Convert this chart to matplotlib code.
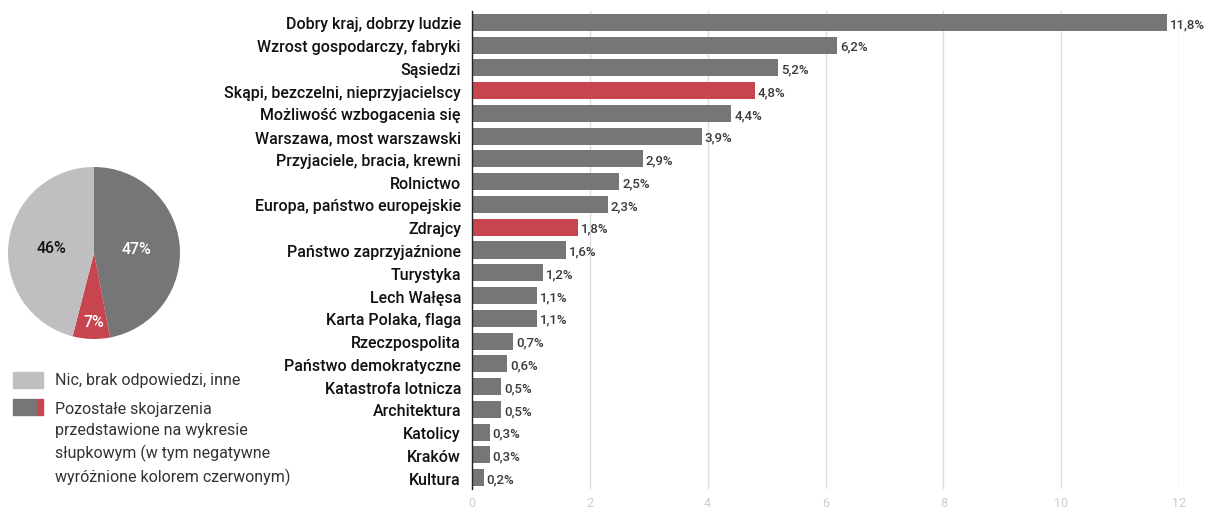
import numpy as np
import matplotlib.pyplot as plt
from matplotlib.patches import Rectangle

plt.rcParams['font.family'] = ['Roboto', 'DejaVu Sans']

# bar chart data (top to bottom)
categories = [
    'Dobry kraj, dobrzy ludzie', 'Wzrost gospodarczy, fabryki', 'Sąsiedzi',
    'Skąpi, bezczelni, nieprzyjacielscy', 'Możliwość wzbogacenia się',
    'Warszawa, most warszawski', 'Przyjaciele, bracia, krewni', 'Rolnictwo',
    'Europa, państwo europejskie', 'Zdrajcy', 'Państwo zaprzyjaźnione',
    'Turystyka', 'Lech Wałęsa', 'Karta Polaka, flaga', 'Rzeczpospolita',
    'Państwo demokratyczne', 'Katastrofa lotnicza', 'Architektura',
    'Katolicy', 'Kraków', 'Kultura',
]
values = [11.8, 6.2, 5.2, 4.8, 4.4, 3.9, 2.9, 2.5, 2.3, 1.8, 1.6,
          1.2, 1.1, 1.1, 0.7, 0.6, 0.5, 0.5, 0.3, 0.3, 0.2]
negative = ['Skąpi, bezczelni, nieprzyjacielscy', 'Zdrajcy']
xticks = [0, 2, 4, 6, 8, 10, 12]

# pie data
pie_values = [47, 7, 46]
pie_labels = ['47%', '7%', '46%']
legend_labels = ['Nic, brak odpowiedzi, inne',
                 'Pozostałe skojarzenia\nprzedstawione na wykresie\n'
                 'słupkowym (w tym negatywne\nwyróżnione kolorem czerwonym)']

GREY = '#767678'
RED = '#c8444f'
LIGHT = '#bfbfc1'

fig = plt.figure(figsize=(12.05, 5.1), dpi=100)

# ---- bar chart
ax = fig.add_axes([472 / 1205, 1 - 490 / 510, 707 / 1205, 478 / 510])
y = np.arange(len(categories))
colors = [RED if c in negative else GREY for c in categories]
ax.barh(y, values, height=0.75, color=colors, zorder=2)
for yi, v in zip(y, values):
    ax.text(v + 0.05, yi + 0.05, f'{v:.1f}%'.replace('.', ','), va='center', ha='left',
            fontsize=9.5, fontweight='medium', color='#3a3a3a', zorder=3, clip_on=False)
ax.set_ylim(len(categories) - 0.5, -0.5)
ax.set_xlim(0, 12)
ax.set_yticks(y)
ax.set_yticklabels(categories, fontsize=11.5, fontweight='medium', color='#111111')
ax.set_xticks(xticks)
ax.set_xticklabels([str(t) for t in xticks], fontsize=9, color='#cccccc')
ax.tick_params(axis='both', length=0)
ax.tick_params(axis='x', pad=5)
ax.tick_params(axis='y', pad=8)
ax.grid(axis='x', color='#dddddd', linewidth=1, zorder=0)
for s in ['top', 'right', 'bottom']:
    ax.spines[s].set_visible(False)
ax.spines['left'].set_color('#222222')
ax.spines['left'].set_linewidth(1)
ax.spines['left'].set_zorder(4)

# ---- pie chart
pax = fig.add_axes([8 / 1205, 1 - 340 / 510, 172 / 1205, 172 / 510])
wedges, texts = pax.pie(pie_values, colors=[GREY, RED, LIGHT], startangle=90,
                        counterclock=False, labels=pie_labels, labeldistance=0.5,
                        textprops=dict(fontsize=11.5, fontweight='medium'))
for t, c in zip(texts, ['white', 'white', '#111111']):
    t.set_color(c)
    t.set_ha('center')
    t.set_va('center')
texts[1].set_position((0.0, -0.8))
pax.set_xlim(-1, 1)
pax.set_ylim(-1, 1)
pax.set_aspect('equal')

# ---- legend
fig.patches.append(Rectangle((13 / 1205, 1 - 389 / 510), 30 / 1205, 16 / 510,
                             transform=fig.transFigure, color=LIGHT))
fig.patches.append(Rectangle((13 / 1205, 1 - 416 / 510), 25 / 1205, 16 / 510,
                             transform=fig.transFigure, color=GREY))
fig.patches.append(Rectangle((38 / 1205, 1 - 416 / 510), 5 / 1205, 16 / 510,
                             transform=fig.transFigure, color=RED))
fig.text(55 / 1205, 1 - 381 / 510, legend_labels[0], fontsize=11.5, color='#333333',
         va='center', ha='left')
fig.text(55 / 1205, 1 - 402 / 510, legend_labels[1], fontsize=11.5, color='#333333',
         va='top', ha='left', linespacing=1.5)

fig.savefig('out.png', dpi=100)
